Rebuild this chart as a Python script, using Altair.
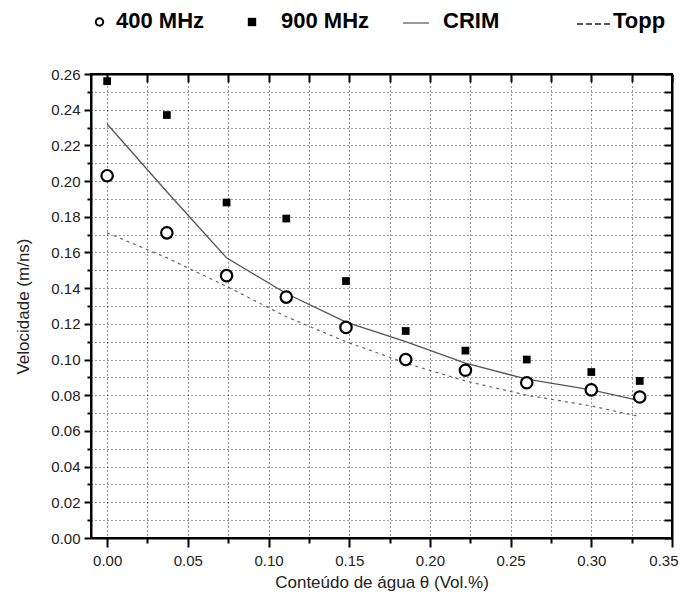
import altair as alt
import pandas as pd

theta = [0.0, 0.037, 0.074, 0.111, 0.148, 0.185, 0.222, 0.26, 0.30, 0.33]
v400 = [0.203, 0.171, 0.147, 0.135, 0.118, 0.100, 0.094, 0.087, 0.083, 0.079]
v900 = [0.256, 0.237, 0.188, 0.179, 0.144, 0.116, 0.105, 0.100, 0.093, 0.088]
crim = [0.232, 0.194, 0.157, 0.137, 0.121, 0.110, 0.098, 0.089, 0.083, 0.077]
topp = [0.171, 0.157, 0.141, 0.124, 0.110, 0.098, 0.088, 0.080, 0.074, 0.068]

x_ticks = [round(i * 0.025, 3) for i in range(15)]
y_ticks = [round(i * 0.01, 2) for i in range(27)]

df = pd.DataFrame({"theta": theta, "v400": v400, "v900": v900, "crim": crim, "topp": topp})

FONT = "Liberation Sans"
xscale = alt.Scale(domain=[-0.01, 0.35], nice=False, zero=False)
yscale = alt.Scale(domain=[0, 0.26], nice=False, zero=False)

x_axis = alt.Axis(
    orient="bottom", values=x_ticks, title="Conteúdo de água  θ (Vol.%)",
    labelExpr="round(datum.value*1000) % 50 === 0 ? format(datum.value, '.2f') : ''",
    grid=True, gridDash=[1, 3], gridColor="#333", gridWidth=1,
    tickSize={"condition": {"test": "round(datum.value*1000) % 50 === 0", "value": 9}, "value": 5},
    tickColor="black", tickWidth=2, domainColor="black", domainWidth=2,
    labelFont=FONT, labelFontSize=15, labelColor="#222", labelPadding=6,
    titleFont=FONT, titleFontSize=17, titleFontWeight="normal", titleColor="#222", titlePadding=6,
    labelFlush=True, labelFlushOffset=6,
)
y_axis = alt.Axis(
    orient="left", values=y_ticks, title="Velocidade (m/ns)",
    labelExpr="round(datum.value*100) % 2 === 0 ? format(datum.value, '.2f') : ''",
    grid=True, gridDash=[1, 3], gridColor="#333", gridWidth=1,
    tickSize={"condition": {"test": "round(datum.value*100) % 2 === 0", "value": 7}, "value": 4},
    tickColor="black", tickWidth=2, domainColor="black", domainWidth=2,
    labelFont=FONT, labelFontSize=15, labelColor="#222", labelPadding=4,
    titleFont=FONT, titleFontSize=17, titleFontWeight="normal", titleColor="#222", titlePadding=18,
    labelFlush=False,
)
x_top = alt.Axis(orient="top", values=x_ticks, labels=False, title=None, grid=False,
                 tickSize={"expr": "-8"}, tickColor="black", tickWidth=2,
                 domainColor="black", domainWidth=2)
y_right = alt.Axis(orient="right", values=y_ticks, labels=False, title=None, grid=False,
                   tickSize={"expr": "-8"}, tickColor="black", tickWidth=2,
                   domainColor="black", domainWidth=2)

base = alt.Chart(df)

ghost = base.mark_point(opacity=0).encode(
    x=alt.X("theta:Q", scale=xscale, axis=x_top),
    y=alt.Y("v400:Q", scale=yscale, axis=y_right),
)

crim_line = base.mark_line(color="#555", strokeWidth=1.3).encode(
    x=alt.X("theta:Q", scale=xscale, axis=x_axis),
    y=alt.Y("crim:Q", scale=yscale, axis=y_axis),
)
topp_line = base.mark_line(color="#666", strokeWidth=1.2, strokeDash=[3, 4]).encode(
    x=alt.X("theta:Q", scale=xscale, axis=None), y=alt.Y("topp:Q", scale=yscale, axis=None),
)
p900 = base.mark_point(shape="square", filled=True, color="black", size=60, opacity=1).encode(
    x=alt.X("theta:Q", scale=xscale, axis=None), y=alt.Y("v900:Q", scale=yscale, axis=None),
)
p400 = base.mark_point(shape="circle", filled=False, color="black", fill="white", fillOpacity=1,
                       strokeWidth=2.2, size=130, opacity=1).encode(
    x=alt.X("theta:Q", scale=xscale, axis=None), y=alt.Y("v400:Q", scale=yscale, axis=None),
)

# manual legend above the plot
one = alt.Chart(pd.DataFrame({"k": [0]}))
LY = -53
lfont = dict(font="Liberation Sans", fontSize=22, fontWeight="bold", color="black",
             align="left", baseline="middle")
leg = [
    one.mark_point(shape="circle", filled=False, color="black", strokeWidth=2, size=55, opacity=1)
       .encode(x=alt.value(8.5), y=alt.value(LY + 1)),
    one.mark_text(**lfont).encode(x=alt.value(25), y=alt.value(LY), text=alt.value("400 MHz")),
    one.mark_point(shape="square", filled=True, color="black", size=70, opacity=1)
       .encode(x=alt.value(161), y=alt.value(LY + 1)),
    one.mark_text(**lfont).encode(x=alt.value(190), y=alt.value(LY), text=alt.value("900 MHz")),
    one.mark_rule(color="#777", strokeWidth=1.5)
       .encode(x=alt.value(312), x2=alt.value(338), y=alt.value(LY + 2)),
    one.mark_text(**lfont).encode(x=alt.value(352), y=alt.value(LY), text=alt.value("CRIM")),
    one.mark_rule(color="#222", strokeWidth=1.4, strokeDash=[6, 3])
       .encode(x=alt.value(486), x2=alt.value(519), y=alt.value(LY + 3)),
    one.mark_text(**lfont).encode(x=alt.value(522), y=alt.value(LY), text=alt.value("Topp")),
]

chart = alt.layer(crim_line, topp_line, p900, p400, ghost, *leg).resolve_axis(
    x="independent", y="independent"
).properties(
    width=581, height=464,
    autosize=alt.AutoSizeParams(type="none"),
    padding={"left": 83, "top": 66, "right": 8, "bottom": 60},
    background="white",
).configure_view(stroke="black", strokeWidth=2)

chart.save("out.html", embed_options={"renderer": "svg", "actions": False})
